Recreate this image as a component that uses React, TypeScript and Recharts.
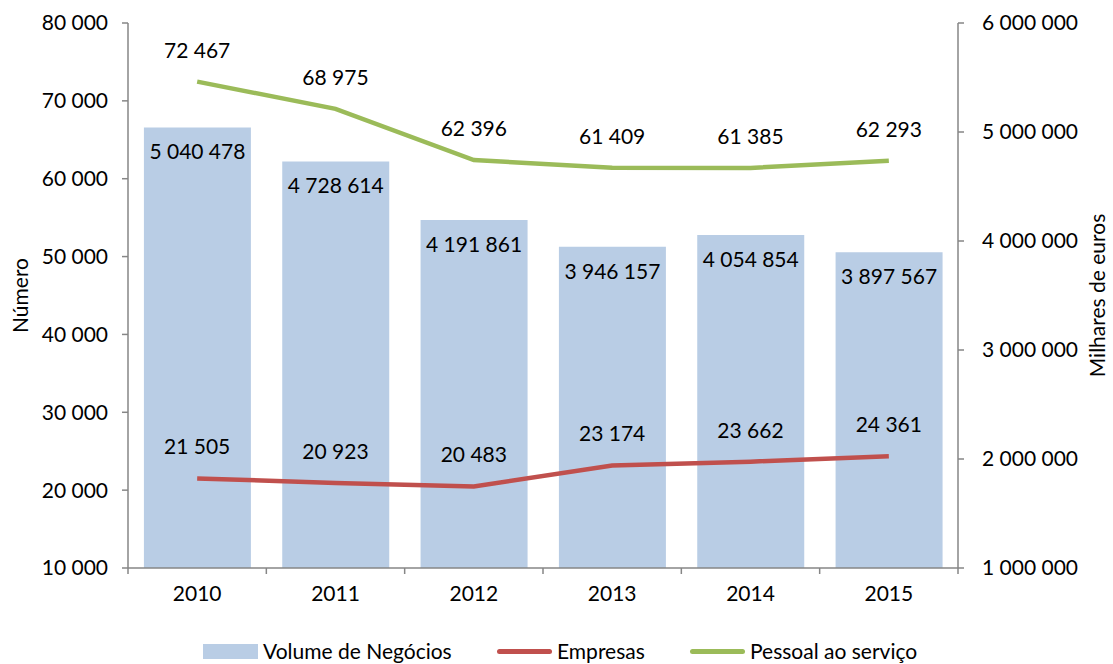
import React from 'react';
import {
  ComposedChart,
  Bar,
  Line,
  XAxis,
  YAxis,
  LabelList,
} from 'recharts';

const years = ['2010', '2011', '2012', '2013', '2014', '2015'];
const volumeNegocios = [5040478, 4728614, 4191861, 3946157, 4054854, 3897567];
const empresas = [21505, 20923, 20483, 23174, 23662, 24361];
const pessoal = [72467, 68975, 62396, 61409, 61385, 62293];

const leftTicks = [10000, 20000, 30000, 40000, 50000, 60000, 70000, 80000];
const rightTicks = [1000000, 2000000, 3000000, 4000000, 5000000, 6000000];

const BAR_COLOR = '#B9CDE5';
const RED = '#C0504D';
const GREEN = '#9BBB59';
const AXIS = '#868686';
const FONT = 'Lato, "Open Sans", sans-serif';
const FS = 21;

const data = years.map((year, i) => ({
  year,
  volume: volumeNegocios[i],
  empresas: empresas[i],
  pessoal: pessoal[i],
}));

// thousands with a plain space, the way the source chart shows them
const fmt = (v: number) =>
  String(Math.round(v)).replace(/\B(?=(\d{3})+(?!\d))/g, ' ');

const legendItems = [
  { label: 'Volume de Negócios', color: BAR_COLOR, kind: 'rect', left: 203 },
  { label: 'Empresas', color: RED, kind: 'line', left: 497 },
  { label: 'Pessoal ao serviço', color: GREEN, kind: 'line', left: 690 },
];

function ChartLegend() {
  return (
    <>
      {legendItems.map((item) => (
        <div
          key={item.label}
          style={{
            position: 'absolute',
            left: item.left,
            top: 637,
            display: 'flex',
            alignItems: 'center',
            fontFamily: FONT,
            fontSize: FS,
            lineHeight: '28px',
            color: '#000',
            whiteSpace: 'nowrap',
          }}
        >
          <div
            style={{
              width: 55,
              height: item.kind === 'rect' ? 15 : 5,
              borderRadius: item.kind === 'rect' ? 0 : 3,
              background: item.color,
              marginRight: 5,
            }}
          />
          <span>{item.label}</span>
        </div>
      ))}
    </>
  );
}

function CategoryTick(props: any) {
  const { x, y, payload, index } = props;
  const half = payload?.offset ?? 69;
  return (
    <g>
      <line x1={x - half} y1={y - 8} x2={x - half} y2={y - 2} stroke={AXIS} strokeWidth={1.5} />
      {index === years.length - 1 && (
        <line x1={x + half} y1={y - 8} x2={x + half} y2={y - 2} stroke={AXIS} strokeWidth={1.5} />
      )}
      <text x={x} y={y + 25} textAnchor="middle" fontFamily={FONT} fontSize={FS} fill="#000">
        {payload.value}
      </text>
    </g>
  );
}

export default function App() {
  return (
    <div style={{ position: 'absolute', left: 0, top: 0, width: 1113, height: 664, background: '#fff' }}>
      <ComposedChart
        width={1113}
        height={664}
        data={data}
        margin={{ top: 23, right: 0, bottom: 0, left: 0 }}
        barCategoryGap="11.5%"
      >
        <XAxis
          dataKey="year"
          stroke={AXIS}
          strokeWidth={1.5}
          tickLine={false}
          tick={<CategoryTick />}
          height={96}
          interval={0}
        />
        <YAxis
          yAxisId="left"
          domain={[10000, 80000]}
          ticks={leftTicks}
          tickFormatter={fmt}
          width={128}
          stroke={AXIS}
          strokeWidth={1.5}
          tickSize={6}
          tick={{ fill: '#000', fontSize: FS, fontFamily: FONT }}
          tickMargin={14}
          label={{
            value: 'Número',
            angle: -90,
            position: 'insideLeft',
            dx: 16,
            style: { textAnchor: 'middle', fontSize: FS, fontFamily: FONT, fill: '#000' },
          }}
        />
        <YAxis
          yAxisId="right"
          orientation="right"
          domain={[1000000, 6000000]}
          ticks={rightTicks}
          tickFormatter={fmt}
          width={155}
          stroke={AXIS}
          strokeWidth={1.5}
          tickSize={6}
          tick={{ fill: '#000', fontSize: FS, fontFamily: FONT, textAnchor: 'start' }}
          tickMargin={18}
          label={{
            value: 'Milhares de euros',
            angle: -90,
            position: 'insideRight',
            dx: -10,
            style: { textAnchor: 'middle', fontSize: FS, fontFamily: FONT, fill: '#000' },
          }}
        />
        <Bar
          yAxisId="right"
          dataKey="volume"
          name="Volume de Negócios"
          fill={BAR_COLOR}
          isAnimationActive={false}
        >
          <LabelList
            dataKey="volume"
            position="insideTop"
            offset={17}
            formatter={(v: any) => fmt(Number(v))}
            style={{ fill: '#000', fontSize: FS, fontFamily: FONT }}
          />
        </Bar>
        <Line
          yAxisId="left"
          dataKey="empresas"
          name="Empresas"
          stroke={RED}
          strokeWidth={4.5}
          dot={false}
          type="linear"
          isAnimationActive={false}
        >
          <LabelList
            dataKey="empresas"
            position="top"
            offset={24}
            formatter={(v: any) => fmt(Number(v))}
            style={{ fill: '#000', fontSize: FS, fontFamily: FONT }}
          />
        </Line>
        <Line
          yAxisId="left"
          dataKey="pessoal"
          name="Pessoal ao serviço"
          stroke={GREEN}
          strokeWidth={4.5}
          dot={false}
          type="linear"
          isAnimationActive={false}
        >
          <LabelList
            dataKey="pessoal"
            position="top"
            offset={24}
            formatter={(v: any) => fmt(Number(v))}
            style={{ fill: '#000', fontSize: FS, fontFamily: FONT }}
          />
        </Line>
      </ComposedChart>
      <ChartLegend />
    </div>
  );
}
